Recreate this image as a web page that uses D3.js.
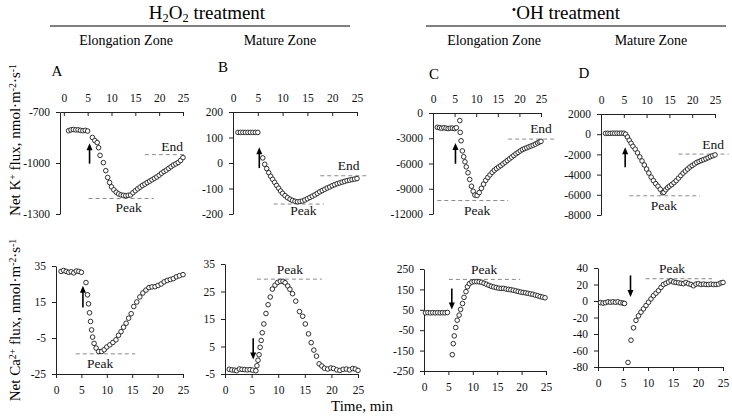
<!DOCTYPE html>
<html>
<head>
<meta charset="utf-8">
<script src="https://cdn.jsdelivr.net/npm/d3@7"></script>
<style>
body { margin: 0; background: #fff; }
svg { font-family: "Liberation Serif", "DejaVu Serif", serif; }
</style>
</head>
<body>
<script>
// ---- data (time in min, flux in nmol m-2 s-1) ----
var kElongH2O2 = [[1,-810],[1.5,-805],[2,-803],[2.5,-805],[3,-805],[3.5,-808],[4,-810],[4.5,-808],[5,-812],
  [6,-850],[6.5,-868],[7,-880],[7.3,-910],[7.6,-955],[8.3,-998],[8.8,-1045],[9.2,-1085],[9.6,-1115],[10,-1140],
  [10.5,-1158],[11,-1172],[11.5,-1182],[12,-1188],[12.5,-1190],[13,-1192],[13.5,-1190],[14,-1188],[14.5,-1175],
  [15,-1163],[15.5,-1152],[16,-1142],[16.5,-1132],[17,-1124],[17.5,-1115],[18,-1107],[18.5,-1099],[19,-1090],
  [19.5,-1082],[20,-1072],[20.5,-1060],[21,-1050],[21.5,-1042],[22,-1032],[22.5,-1022],[23,-1012],[23.5,-1005],
  [24,-997],[24.5,-985],[25,-968]];
var kMatureH2O2 = [[1,120],[1.5,120],[2,120],[2.5,120],[3,120],[3.5,120],[4,120],[4.5,120],[5,120],
  [6,20],[6.4,-5],[6.8,-22],[7.2,-38],[7.6,-52],[8,-64],[8.4,-76],[8.8,-88],[9.2,-99],[9.6,-110],[10,-119],
  [10.5,-128],[11,-136],[11.5,-142],[12,-147],[12.5,-150],[13,-152],[13.5,-151],[14,-149],[14.5,-145],[15,-140],
  [15.5,-135],[16,-130],[16.5,-125],[17,-119],[17.5,-113],[18,-108],[18.5,-103],[19,-98],[19.5,-94],[20,-89],
  [20.5,-85],[21,-81],[21.5,-78],[22,-75],[22.5,-72],[23,-69],[23.5,-67],[24,-65],[24.5,-63],[25,-61]];
var kElongOH = [[1,-1700],[1.5,-1750],[2,-1800],[2.5,-1750],[3,-1800],[3.5,-1850],[4,-1800],[4.5,-1800],[5,-1850],
  [5.4,-1750],[6.2,-900],[6.3,-2300],[6.5,-3300],[6.8,-4500],[7.1,-5200],[7.4,-5800],[7.7,-6400],[8.1,-7100],
  [8.5,-7900],[8.9,-8700],[9.3,-9300],[9.7,-9750],[10.2,-9800],[10.7,-9450],[11.2,-8950],[11.7,-8450],[12.2,-8000],
  [12.7,-7650],[13.2,-7350],[13.7,-7050],[14.2,-6800],[14.7,-6600],[15.2,-6420],[15.7,-6250],[16.2,-6050],
  [16.7,-5850],[17.2,-5650],[17.7,-5450],[18.2,-5250],[18.7,-5050],[19.2,-4850],[19.7,-4680],[20.2,-4500],
  [20.7,-4350],[21.2,-4230],[21.7,-4130],[22.2,-4020],[22.7,-3920],[23.2,-3820],[23.7,-3700],[24.2,-3560],
  [24.6,-3450],[25,-3370]];
var kMatureOH = [[1,80],[1.5,90],[2,80],[2.5,100],[3,90],[3.5,100],[4,90],[4.5,100],[5,90],[5.4,0],[5.8,-280],
  [6.2,-600],[6.6,-900],[7,-1200],[7.5,-1480],[8,-1850],[8.5,-2250],[9,-2650],[9.5,-3050],[10,-3450],[10.5,-3850],
  [11,-4250],[11.5,-4600],[12,-4900],[12.5,-5150],[13,-5450],[13.5,-5800],[13.8,-5750],[14.2,-5500],[14.6,-5300],
  [15,-5150],[15.5,-5000],[16,-4800],[16.5,-4600],[17,-4350],[17.5,-4100],[18,-3850],[18.5,-3650],[19,-3450],
  [19.5,-3250],[20,-3100],[20.5,-2950],[21,-2800],[21.5,-2700],[22,-2600],[22.5,-2520],[23,-2430],[23.5,-2330],
  [24,-2220],[24.5,-2130],[25,-2050]];

var caElongH2O2 = [[1,32],[1.5,32.5],[2,32],[2.5,31.5],[3,31.8],[3.5,31.2],[4,32.2],[4.5,32],[5,31.5],
  [5.9,25.8],[6.2,19],[6.4,14],[6.6,9],[6.8,4.2],[7,-0.5],[7.2,-4.5],[7.5,-8],[7.9,-10.6],[8.4,-12.5],[9,-12.5],
  [9.5,-11.5],[10,-10],[10.6,-8.8],[11.2,-7.5],[11.8,-6],[12.3,-3.5],[12.8,-1.5],[13.3,1],[13.8,3.2],[14.3,6],
  [14.8,8.5],[15.3,12.5],[15.9,15],[16.5,17.8],[17.1,20],[17.7,21.6],[18.3,23],[18.9,23.4],[19.5,23.5],[20.1,24.2],
  [20.7,25],[21.3,26.2],[21.9,27],[22.5,27.5],[23.1,28],[23.7,29],[24.3,29.6],[25,30.2]];
var caMatureH2O2 = [[0.8,-3.3],[1.3,-3.5],[1.8,-3.6],[2.2,-3.8],[2.7,-3.2],[3.2,-3.3],[3.7,-3.4],[4.2,-3.5],
  [4.7,-3.4],[5.2,-3.6],[5.8,-3.8],[6,-2],[6.2,0],[6.4,2],[6.6,4.7],[6.8,7.2],[7,10],[7.3,13.2],[7.7,17],[8.1,20.2],
  [8.5,23],[8.9,25.9],[9.4,27.3],[9.9,28.3],[10.4,28.7],[10.9,28.7],[11.3,28.2],[11.8,27],[12.2,25.8],[12.7,24.2],
  [13.3,21.5],[14,17.7],[14.6,16],[15.1,13.2],[15.7,9.6],[16.2,6.4],[16.7,3.7],[17.2,1.5],[17.7,-1.3],[18.2,-2.1],
  [18.7,-2.9],[19.3,-3.2],[19.9,-2.8],[20.4,-3],[21,-3.5],[21.6,-3.7],[22.2,-3.3],[22.8,-3.2],[23.4,-3.5],[24,-3],
  [24.5,-3.2],[25,-3.7]];
var caElongOH = [[0.3,35],[0.8,36],[1.3,35],[1.8,36],[2.3,35],[2.8,36],[3.3,35],[3.8,36],[4.3,35],[4.8,37],
  [5.8,-170],[6,-116],[6.2,-78],[6.5,-37],[6.8,-1],[7.2,24],[7.5,52],[7.9,81],[8.2,111],[8.6,139],[8.9,163],
  [9.3,178],[9.8,186],[10.3,188],[10.8,188],[11.3,187],[11.8,185],[12.3,180],[12.8,175],[13.3,170],[13.8,165],
  [14.3,162],[14.8,159],[15.3,156],[15.8,155],[16.3,155],[16.8,152],[17.3,150],[17.8,148],[18.3,146],[18.8,143],
  [19.3,140],[19.8,137],[20.3,135],[20.8,133],[21.3,131],[21.8,128],[22.3,126],[22.8,122],[23.3,119],[23.8,115],
  [24.3,112],[24.8,109]];
var caMatureOH = [[0.5,-2],[1,-2.5],[1.5,-2],[2,-1],[2.5,-1.5],[3,-1],[3.5,-1.5],[4,-1],[4.5,-2],[5,-2.5],[5.3,-3],
  [6,-74.5],[6.6,-47.5],[7.1,-32.5],[7.6,-23.5],[8.1,-18],[8.6,-13.5],[9.1,-9.5],[9.6,-5.5],[10.1,-1.5],[10.6,2.5],
  [11.1,6.5],[11.6,9.5],[12.1,12.5],[12.6,16.5],[13.1,20],[13.6,21.5],[14.1,23],[14.6,24.5],[15.1,23],[15.6,22.5],
  [16.1,22],[16.6,21.5],[17.1,21],[17.6,22.5],[18.1,21],[18.6,20],[19.1,18.5],[19.6,20.5],[20.1,21],[20.6,20],
  [21.1,20.5],[21.6,20],[22.1,20],[22.6,20.5],[23.1,20],[23.6,20],[24.1,20.5],[24.6,22],[25,22.5]];

// tick labels
var timeTicks = [0, 5, 10, 15, 20, 25];
var kTicksA = [-1300, -1000, -700];
var kTicksB = [-200, -100, 0, 100, 200];
var kTicksC = [-12000, -9000, -6000, -3000, 0];
var kTicksD = [-8000, -6000, -4000, -2000, 0, 2000];
var caTicksA = [-25, -5, 15, 35];
var caTicksB = [-5, 5, 15, 25, 35];
var caTicksC = [-250, -150, -50, 50, 150, 250];
var caTicksD = [-80, -60, -40, -20, 0, 20, 40];

// ---- layout ----
var W = 732, H = 418;
var SVG = d3.select('body').append('svg').attr('width', W).attr('height', H);

// annotation positions are in data units (t, flux)
var PANELS = [
  {data: kElongH2O2, ticks: kTicksA, xMin: -0.8, x0: 60, x1: 183, y0: 112, y1: 214, top: true,
   peak: [5.2, 18.9, -1209, 13.6, -1262], end: [17, 25.8, -951, 22.7, -903], arrow: [5.4, -1004, -884]},
  {data: kMatureH2O2, ticks: kTicksB, xMin: 0, x0: 233, x1: 357, y0: 112, y1: 214, top: true,
   peak: [8.2, 18.3, -161, 14.2, -184], end: [17.6, 27.5, -50, 23.3, -7], arrow: [5.3, -20, 62]},
  {data: kElongOH, ticks: kTicksC, xMin: 0, x0: 433, x1: 541, y0: 113, y1: 214, top: true,
   peak: [1, 17.4, -10400, 10.2, -11500], end: [17.4, 28.5, -3100, 25, -1780], arrow: [5.2, -6030, -3570]},
  {data: kMatureOH, ticks: kTicksD, xMin: 0, x0: 601, x1: 715, y0: 114, y1: 215, top: true,
   peak: [6.2, 21.7, -6100, 13.8, -7000], end: [17, 28, -1970, 24.6, -1045], arrow: [5.3, -3260, -1280]},
  {data: caElongH2O2, ticks: caTicksA, xMin: 0, x0: 56, x1: 183, y0: 266, y1: 374, top: false,
   peak: [3.9, 15.6, -13.8, 8.7, -19.3], arrow: [5.3, 12, 24]},
  {data: caMatureH2O2, ticks: caTicksB, xMin: 0, x0: 225, x1: 358, y0: 264, y1: 374, top: false,
   peak: [6, 18.2, 29.5, 12.2, 33.2], arrow: [5.3, 8, 0.3]},
  {data: caElongOH, ticks: caTicksC, xMin: 0, x0: 424, x1: 546, y0: 269, y1: 371, top: false,
   peak: [5.1, 19.7, 199, 12.3, 248], arrow: [5.7, 155, 52]},
  {data: caMatureOH, ticks: caTicksD, xMin: 0, x0: 598, x1: 723, y0: 268, y1: 367, top: false,
   peak: [9.5, 22.8, 27, 14.8, 40], arrow: [6.5, 31, 4.9]}
];

// small helper for sub/superscripts
function richText(sel, parts) {
  parts.forEach(function(p) {
    var t = sel.append('tspan').text(p[0]);
    if (p[1] === 'sup') t.attr('font-size', '0.65em').attr('baseline-shift', '45%');
    if (p[1] === 'sub') t.attr('font-size', '0.65em').attr('baseline-shift', '-25%');
  });
  return sel;
}

function drawPanel(p) {
  var g = SVG.append('g');
  var x = d3.scaleLinear().domain([p.xMin, 25]).range([p.x0, p.x1]);
  var y = d3.scaleLinear().domain(d3.extent(p.ticks)).range([p.y1, p.y0]);

  var xAxis = p.top
      ? d3.axisTop(x).tickValues(timeTicks).tickSizeInner(-4).tickSizeOuter(0).tickPadding(10)
      : d3.axisBottom(x).tickValues(timeTicks).tickSizeInner(4).tickSizeOuter(0).tickPadding(8);
  var gx = g.append('g').attr('transform', 'translate(0,' + (p.top ? p.y0 : p.y1) + ')').call(xAxis);

  var gy = g.append('g').attr('transform', 'translate(' + p.x0 + ',0)')
      .call(d3.axisLeft(y).tickValues(p.ticks).tickSize(4).tickSizeOuter(0).tickPadding(6)
        .tickFormat(function(d) { return String(d); }));

  [gx, gy].forEach(function(a) {
    a.attr('font-family', null).attr('font-size', 11.5);
    a.selectAll('path, line').attr('stroke', '#222').attr('stroke-width', 1);
    a.selectAll('text').attr('fill', '#111');
  });

  // dashed reference lines
  var refs = [p.peak, p.end].filter(Boolean);
  refs.forEach(function(r, i) {
    g.append('line')
      .attr('x1', x(r[0])).attr('x2', x(r[1]))
      .attr('y1', y(r[2])).attr('y2', y(r[2]))
      .attr('stroke', '#8a8a8a').attr('stroke-width', 1).attr('stroke-dasharray', '4,3');
    g.append('text')
      .attr('x', x(r[3])).attr('y', y(r[4])).attr('dy', '0.35em')
      .attr('text-anchor', 'middle').attr('font-size', 13.5).attr('fill', '#111')
      .text(i === 0 ? 'Peak' : 'End');
  });

  // markers
  g.append('g').selectAll('circle').data(p.data).join('circle')
    .attr('cx', function(d) { return x(d[0]); })
    .attr('cy', function(d) { return y(d[1]); })
    .attr('r', 2.3)
    .attr('fill', '#fff').attr('stroke', '#1a1a1a').attr('stroke-width', 0.9);

  // treatment arrow
  var ax = x(p.arrow[0]), ya = y(p.arrow[1]), yb = y(p.arrow[2]);
  var dir = yb < ya ? -1 : 1;
  g.append('line').attr('x1', ax).attr('x2', ax).attr('y1', ya).attr('y2', yb - dir * 5)
    .attr('stroke', '#000').attr('stroke-width', 1.6);
  g.append('path')
    .attr('d', 'M' + ax + ',' + yb + 'L' + (ax - 3) + ',' + (yb - dir * 7) + 'L' + (ax + 3) + ',' + (yb - dir * 7) + 'Z')
    .attr('fill', '#000');
}

PANELS.forEach(drawPanel);

// ---- headers ----
richText(SVG.append('text').attr('x', 207).attr('y', 19).attr('text-anchor', 'middle').attr('font-size', 19),
  [['H'], ['2', 'sub'], ['O'], ['2', 'sub'], [' treatment']]);
richText(SVG.append('text').attr('x', 566).attr('y', 19).attr('text-anchor', 'middle').attr('font-size', 19),
  [['•', 'sup'], ['OH treatment']]);
SVG.append('line').attr('x1', 50).attr('x2', 350).attr('y1', 26).attr('y2', 26).attr('stroke', '#000').attr('stroke-width', 1.2);
SVG.append('line').attr('x1', 426).attr('x2', 726).attr('y1', 26).attr('y2', 26).attr('stroke', '#000').attr('stroke-width', 1.2);

var zones = [[126, 'Elongation Zone'], [280, 'Mature Zone'], [494, 'Elongation Zone'], [651, 'Mature Zone']];
zones.forEach(function(z) {
  SVG.append('text').attr('x', z[0]).attr('y', 45).attr('text-anchor', 'middle').attr('font-size', 14).text(z[1]);
});

var letters = [[57, 76, 'A'], [223, 72, 'B'], [434, 79, 'C'], [584, 78, 'D']];
letters.forEach(function(l) {
  SVG.append('text').attr('x', l[0]).attr('y', l[1]).attr('text-anchor', 'middle').attr('font-size', 15).text(l[2]);
});

// axis titles
richText(SVG.append('text').attr('transform', 'translate(20,140) rotate(-90)').attr('text-anchor', 'middle').attr('font-size', 15),
  [['Net K'], ['+', 'sup'], [' flux, nmol·m'], ['-2', 'sup'], ['·s'], ['-1', 'sup']]);
richText(SVG.append('text').attr('transform', 'translate(20,320) rotate(-90)').attr('text-anchor', 'middle').attr('font-size', 15),
  [['Net Ca'], ['2+', 'sup'], [' flux, nmol·m'], ['-2', 'sup'], ['·s'], ['-1', 'sup']]);
SVG.append('text').attr('x', 362).attr('y', 411).attr('text-anchor', 'middle').attr('font-size', 15).text('Time, min');
</script>
</body>
</html>
